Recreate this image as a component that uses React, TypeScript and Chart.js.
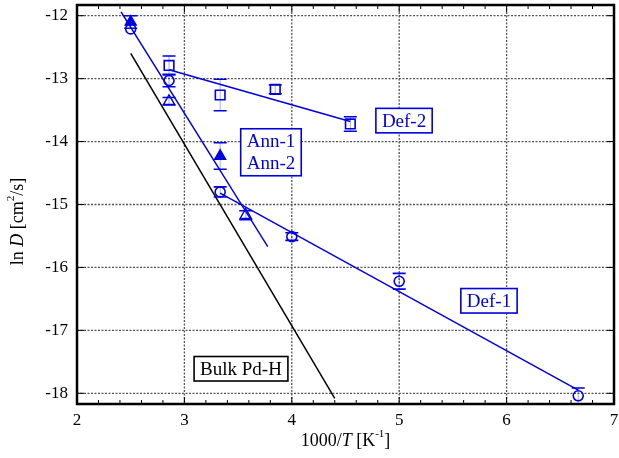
import { useEffect, useRef } from 'react';
import { Chart, registerables } from 'chart.js';

Chart.register(...registerables);

// ---- data ----
const xTicks = [2, 3, 4, 5, 6, 7];
const yTicks = [-18, -17, -16, -15, -14, -13, -12];

const def1X = [2.5, 2.857, 3.333, 4.0, 5.0, 6.667];
const def1Y = [-12.21, -13.03, -14.8, -15.51, -16.22, -18.04];
const def1Err = [0, 0.1, 0.08, 0.06, 0.125, 0.125];

const def2X = [2.857, 3.333, 3.846, 4.545];
const def2Y = [-12.79, -13.26, -13.17, -13.72];
const def2Err = [0.15, 0.25, 0.07, 0.115];

const ann1X = [2.5, 3.333];
const ann1Y = [-12.1, -14.23];
const ann1Err = [0.1, 0.21];

const ann2X = [2.857, 3.571];
const ann2Y = [-13.36, -15.17];
const ann2Err = [0.06, 0.07];

const def1FitX = [3.333, 6.667];
const def1FitY = [-14.82, -17.95];
const def2FitX = [2.857, 4.545];
const def2FitY = [-12.86, -13.68];
const annFitX = [2.41, 3.776];
const annFitY = [-11.94, -15.67];
const bulkFitX = [2.5, 4.4];
const bulkFitY = [-12.6, -18.08];

const labelTexts = ['Def-1', 'Def-2', 'Ann-1\nAnn-2', 'Bulk Pd-H'];

const BLUE = 'rgb(0,0,225)';

// annotation anchors (data units) and colours
const annotations = [
  { text: labelTexts[0], x: 5.836, y: -16.53, color: BLUE },
  { text: labelTexts[1], x: 5.045, y: -13.667, color: BLUE },
  { text: labelTexts[2], x: 3.806, y: -14.17, color: BLUE },
  { text: labelTexts[3], x: 3.527, y: -17.61, color: '#000' },
];

const FAMILY = '"Liberation Serif", "Times New Roman", serif';

const pts = (xs: number[], ys: number[]) => xs.map((x, i) => ({ x, y: ys[i] }));

type Seg = { t: string; it?: boolean; sup?: boolean };

function drawRich(ctx: CanvasRenderingContext2D, segs: Seg[], cx: number, cy: number, size: number) {
  const fontFor = (s: Seg) =>
    `${s.it ? 'italic ' : ''}${s.sup ? Math.round(size * 0.62) : size}px ${FAMILY}`;
  const widths = segs.map((s) => {
    ctx.font = fontFor(s);
    return ctx.measureText(s.t).width;
  });
  const total = widths.reduce((a, b) => a + b, 0);
  let x = cx - total / 2;
  ctx.textAlign = 'left';
  ctx.textBaseline = 'middle';
  ctx.fillStyle = '#000';
  segs.forEach((s, i) => {
    ctx.font = fontFor(s);
    ctx.fillText(s.t, x, s.sup ? cy - size * 0.38 : cy);
    x += widths[i];
  });
}

const errorSets = [
  { ds: 0, err: def1Err },
  { ds: 1, err: def2Err },
  { ds: 2, err: ann1Err },
  { ds: 3, err: ann2Err },
];

const framePlugin = {
  id: 'frame',
  beforeDatasetsDraw(chart: any) {
    const { ctx, chartArea: a, scales } = chart;
    const xs = scales.x;
    const ys = scales.y;
    ctx.save();
    ctx.strokeStyle = '#555';
    ctx.lineWidth = 1.3;
    ctx.setLineDash([2, 1.5]);
    xTicks.forEach((v) => {
      const p = xs.getPixelForValue(v);
      if (p <= a.left + 2 || p >= a.right - 2) return;
      ctx.beginPath();
      ctx.moveTo(p, a.top);
      ctx.lineTo(p, a.bottom);
      ctx.stroke();
    });
    yTicks.forEach((v) => {
      const p = ys.getPixelForValue(v);
      ctx.beginPath();
      ctx.moveTo(a.left, p);
      ctx.lineTo(a.right, p);
      ctx.stroke();
    });
    ctx.restore();
  },
  afterDatasetsDraw(chart: any) {
    const { ctx, chartArea: a, scales } = chart;
    const xs = scales.x;
    const ys = scales.y;
    ctx.save();
    // error bars
    errorSets.forEach(({ ds, err }) => {
      const meta = chart.getDatasetMeta(ds);
      meta.data.forEach((el: any, i: number) => {
        const e = err[i];
        if (!e) return;
        const v = chart.data.datasets[ds].data[i].y;
        const x = el.x;
        const y1 = ys.getPixelForValue(v + e);
        const y2 = ys.getPixelForValue(v - e);
        ctx.strokeStyle = 'rgba(0,0,230,0.35)';
        ctx.lineWidth = 1;
        ctx.beginPath();
        ctx.moveTo(x, y1);
        ctx.lineTo(x, y2);
        ctx.stroke();
        ctx.strokeStyle = BLUE;
        ctx.lineWidth = 1.6;
        ctx.beginPath();
        ctx.moveTo(x - 6.5, y1);
        ctx.lineTo(x + 6.5, y1);
        ctx.moveTo(x - 6.5, y2);
        ctx.lineTo(x + 6.5, y2);
        ctx.stroke();
      });
    });

    // label boxes
    const fs = 19;
    annotations.forEach((an) => {
      const lines = an.text.split('\n');
      ctx.font = `${fs}px ${FAMILY}`;
      const w = Math.max(...lines.map((l) => ctx.measureText(l).width)) + 12;
      const lh = 22.5;
      const h = lines.length * lh + 2;
      const cx = xs.getPixelForValue(an.x);
      const cy = ys.getPixelForValue(an.y);
      ctx.fillStyle = '#fff';
      ctx.fillRect(cx - w / 2, cy - h / 2, w, h);
      ctx.strokeStyle = an.color;
      ctx.lineWidth = 1.6;
      ctx.setLineDash([]);
      ctx.strokeRect(cx - w / 2, cy - h / 2, w, h);
      ctx.fillStyle = an.color;
      ctx.textAlign = 'center';
      ctx.textBaseline = 'middle';
      lines.forEach((l, i) => {
        ctx.fillText(l, cx, cy - h / 2 + 1 + lh * (i + 0.5) + 1);
      });
    });

    // frame
    ctx.strokeStyle = '#000';
    ctx.lineWidth = 2.5;
    ctx.strokeRect(a.left, a.top, a.right - a.left, a.bottom - a.top);

    // tick marks
    ctx.lineWidth = 1;
    ctx.beginPath();
    for (let k = 0; k <= 25; k++) {
      const v = 2 + k * 0.2;
      const p = xs.getPixelForValue(v);
      const len = k % 5 === 0 ? 7 : 4;
      ctx.moveTo(p, a.bottom);
      ctx.lineTo(p, a.bottom - len);
      ctx.moveTo(p, a.top);
      ctx.lineTo(p, a.top + len);
    }
    yTicks.forEach((v) => {
      const p = ys.getPixelForValue(v);
      ctx.moveTo(a.left, p);
      ctx.lineTo(a.left + 7, p);
      ctx.moveTo(a.right, p);
      ctx.lineTo(a.right - 7, p);
    });
    ctx.stroke();

    // axis titles
    drawRich(
      ctx,
      [{ t: '1000/' }, { t: 'T', it: true }, { t: ' [K' }, { t: '-1', sup: true }, { t: ']' }],
      (a.left + a.right) / 2,
      441,
      18
    );
    ctx.save();
    ctx.translate(18, (a.top + a.bottom) / 2 + 17);
    ctx.rotate(-Math.PI / 2);
    drawRich(
      ctx,
      [{ t: 'ln ' }, { t: 'D', it: true }, { t: ' [cm' }, { t: '2', sup: true }, { t: '/s]' }],
      0,
      0,
      18
    );
    ctx.restore();
    ctx.restore();
  },
};

export default function App() {
  const ref = useRef<HTMLCanvasElement | null>(null);

  useEffect(() => {
    if (!ref.current) return;
    const blue = BLUE;
    const chart = new Chart(ref.current, {
      type: 'scatter',
      data: {
        datasets: [
          {
            label: 'Def-1',
            data: pts(def1X, def1Y),
            pointStyle: 'circle',
            pointRadius: 5,
            borderColor: blue,
            backgroundColor: 'rgba(0,0,0,0)',
            borderWidth: 1.6,
            showLine: false,
          },
          {
            label: 'Def-2',
            data: pts(def2X, def2Y),
            pointStyle: 'rect',
            pointRadius: 6.8,
            borderColor: blue,
            backgroundColor: 'rgba(0,0,0,0)',
            borderWidth: 1.6,
            showLine: false,
          },
          {
            label: 'Ann-1',
            data: pts(ann1X, ann1Y),
            pointStyle: 'triangle',
            pointRadius: 6.5,
            borderColor: blue,
            backgroundColor: blue,
            borderWidth: 1.2,
            showLine: false,
          },
          {
            label: 'Ann-2',
            data: pts(ann2X, ann2Y),
            pointStyle: 'triangle',
            pointRadius: 6.5,
            borderColor: blue,
            backgroundColor: 'rgba(0,0,0,0)',
            borderWidth: 1.4,
            showLine: false,
          },
          {
            label: 'Def-1 fit',
            data: pts(def1FitX, def1FitY),
            showLine: true,
            pointRadius: 0,
            borderColor: blue,
            borderWidth: 1.5,
          },
          {
            label: 'Def-2 fit',
            data: pts(def2FitX, def2FitY),
            showLine: true,
            pointRadius: 0,
            borderColor: blue,
            borderWidth: 1.5,
          },
          {
            label: 'Ann fit',
            data: pts(annFitX, annFitY),
            showLine: true,
            pointRadius: 0,
            borderColor: blue,
            borderWidth: 1.5,
          },
          {
            label: 'Bulk Pd-H',
            data: pts(bulkFitX, bulkFitY),
            showLine: true,
            pointRadius: 0,
            borderColor: '#000',
            borderWidth: 1.5,
          },
        ],
      },
      options: {
        animation: false,
        responsive: true,
        maintainAspectRatio: false,
        layout: { autoPadding: false, padding: { top: 5, right: 5, left: 0, bottom: 0 } },
        plugins: {
          legend: { display: false },
          tooltip: { enabled: false },
          title: { display: false },
        },
        scales: {
          x: {
            type: 'linear',
            min: 2,
            max: 7,
            afterBuildTicks: (s: any) => {
              s.ticks = xTicks.map((v) => ({ value: v }));
            },
            afterFit: (s: any) => {
              s.height = 54;
              s.paddingLeft = 0;
              s.paddingRight = 0;
              s.paddingTop = 0;
              s.paddingBottom = 0;
            },
            grid: { display: false, drawTicks: false },
            border: { display: false },
            ticks: {
              autoSkip: false,
              maxRotation: 0,
              padding: 6,
              color: '#000',
              font: { family: FAMILY, size: 17 },
              callback: (v: any) => String(v),
            },
          },
          y: {
            type: 'linear',
            min: -18.17,
            max: -11.83,
            afterBuildTicks: (s: any) => {
              s.ticks = yTicks.map((v) => ({ value: v }));
            },
            afterFit: (s: any) => {
              s.width = 77;
              s.paddingLeft = 0;
              s.paddingRight = 0;
              s.paddingTop = 0;
              s.paddingBottom = 0;
            },
            grid: { display: false, drawTicks: false },
            border: { display: false },
            ticks: {
              autoSkip: false,
              padding: 9,
              color: '#000',
              font: { family: FAMILY, size: 17 },
              callback: (v: any) => String(v),
            },
          },
        },
      },
      plugins: [framePlugin],
    });
    return () => chart.destroy();
  }, []);

  return (
    <div style={{ position: 'fixed', left: 0, top: 0, width: 619, height: 458 }}>
      <canvas ref={ref} />
    </div>
  );
}
